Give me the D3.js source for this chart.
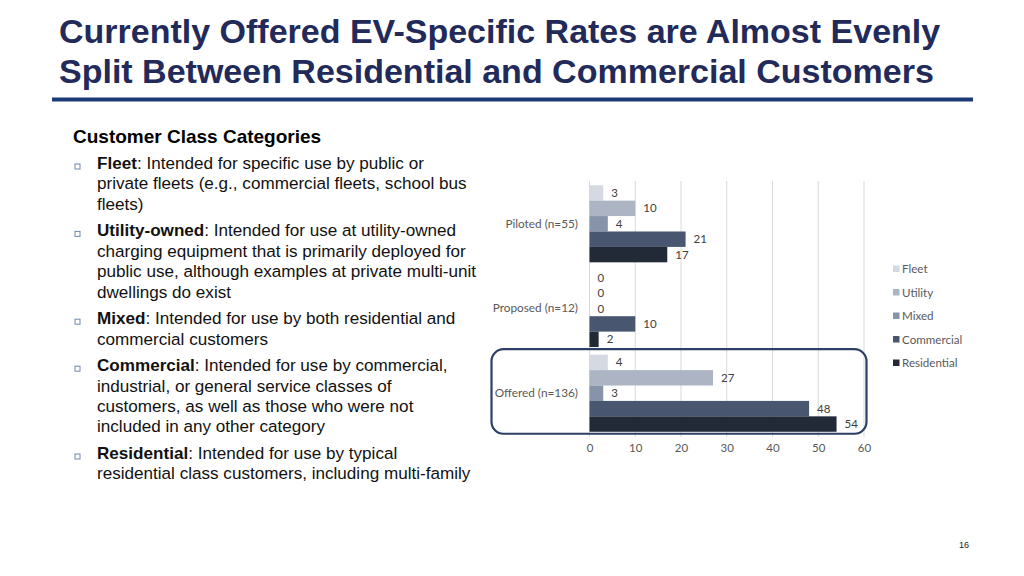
<!DOCTYPE html>
<html><head><meta charset="utf-8">
<script src="https://cdn.jsdelivr.net/npm/d3@7"></script>
<style>
html,body{margin:0;padding:0;background:#fff;}
svg{display:block;}
</style></head>
<body>
<svg id="c" width="1024" height="576"></svg>
<script>
const categories = ["Piloted (n=55)", "Proposed (n=12)", "Offered (n=136)"];
const seriesNames = ["Fleet", "Utility", "Mixed", "Commercial", "Residential"];
const fleet       = [3, 0, 4];
const utility     = [10, 0, 27];
const mixed       = [4, 0, 3];
const commercial  = [21, 10, 48];
const residential = [17, 2, 54];
const xTicks = [0, 10, 20, 30, 40, 50, 60];
const seriesColors = ["#d5d9e1", "#adb5c5", "#8693a8", "#485670", "#222a37"];
const titleLines = ["Currently Offered EV-Specific Rates are Almost Evenly",
                    "Split Between Residential and Commercial Customers"];
const sideHeading = "Customer Class Categories";
const paragraphs = [
  {b:"Fleet", lines:[": Intended for specific use by public or", "private fleets (e.g., commercial fleets, school bus", "fleets)"]},
  {b:"Utility-owned", lines:[": Intended for use at utility-owned", "charging equipment that is primarily deployed for", "public use, although examples at private multi-unit", "dwellings do exist"]},
  {b:"Mixed", lines:[": Intended for use by both residential and", "commercial customers"]},
  {b:"Commercial", lines:[": Intended for use by commercial,", "industrial, or general service classes of", "customers, as well as those who were not", "included in any other category"]},
  {b:"Residential", lines:[": Intended for use by typical", "residential class customers, including multi-family"]}
];
const pageNumber = "16";

const allSeries = [fleet, utility, mixed, commercial, residential];
const svg = d3.select("#c");

// Title
const title = svg.append("g");
titleLines.forEach((t,i)=>{
  title.append("text").attr("x",59).attr("y",43+i*40)
    .attr("font-family","Liberation Sans, Arial, sans-serif")
    .attr("font-weight","bold").attr("font-size",34)
    .attr("fill","#222a5a").text(t);
});
svg.append("rect").attr("x",52).attr("y",97.5).attr("width",921).attr("height",4).attr("fill","#1d3a78");

// Left text
const tf = "Liberation Sans, Arial, sans-serif";
svg.append("text").attr("x",73).attr("y",143).attr("font-family",tf).attr("font-weight","bold")
  .attr("font-size",19).attr("fill","#000").text(sideHeading);
let li = 0;
paragraphs.forEach((p,pi)=>{
  p.lines.forEach((ln,k)=>{
    const y = 169 + li*20.4 + pi*6.2;
    const t = svg.append("text").attr("x",97).attr("y",y).attr("font-family",tf)
      .attr("font-size",17.1).attr("fill","#111");
    if(k===0){
      t.append("tspan").attr("font-weight","bold").text(p.b);
      svg.append("rect").attr("x",75).attr("y",y-5).attr("width",5).attr("height",5)
        .attr("fill","none").attr("stroke","#6f86b0").attr("stroke-width",1);
    }
    t.append("tspan").text(ln);
    li++;
  });
});

// Chart
const cf = "Lato, 'Open Sans', sans-serif";
const x = d3.scaleLinear().domain([0,60]).range([589.5,864]);
const y0 = d3.scaleBand().domain(categories).range([181,436]).paddingInner(0.09).paddingOuter(0.05);
const y1 = d3.scaleBand().domain(seriesNames).range([0,y0.bandwidth()]);

// grid
svg.append("g").selectAll("line").data(xTicks).join("line")
  .attr("x1",d=>x(d)).attr("x2",d=>x(d)).attr("y1",181).attr("y2",437)
  .attr("stroke","#d9d9d9").attr("stroke-width",1);

// x axis labels
const xa = svg.append("g").attr("transform","translate(0,444)")
  .call(d3.axisBottom(x).tickValues(xTicks).tickSize(0).tickPadding(0));
xa.select(".domain").remove();
xa.selectAll("text").attr("font-family",cf).attr("font-size",11.5).attr("fill","#595959");

// y axis labels
const ya = svg.append("g").attr("transform","translate(578,0)")
  .call(d3.axisLeft(y0).tickSize(0).tickPadding(0));
ya.select(".domain").remove();
ya.selectAll("text").attr("font-family",cf).attr("font-size",11.8).attr("fill","#595959");

// bars
const groups = svg.append("g").selectAll("g").data(categories).join("g")
  .attr("transform",d=>`translate(0,${y0(d)})`);
groups.each(function(cat,ci){
  const g = d3.select(this);
  seriesNames.forEach((s,si)=>{
    const v = allSeries[si][ci];
    g.append("rect").attr("x",x(0)).attr("y",y1(s)).attr("width",x(v)-x(0))
      .attr("height",y1.bandwidth()).attr("fill",seriesColors[si]);
    g.append("text").attr("x",x(v)+8).attr("y",y1(s)+y1.bandwidth()/2).attr("dy","0.35em")
      .attr("font-family",cf).attr("font-size",11.5).attr("fill","#404040").text(v);
  });
});

// highlight box around Offered
const off = categories[2];
svg.append("rect").attr("x",491.5).attr("y",y0(off)-5.5).attr("width",375).attr("height",y0.bandwidth()+7.5)
  .attr("rx",12).attr("ry",12).attr("fill","none").attr("stroke","#2d3f66").attr("stroke-width",2.2);

// legend
const lg = svg.append("g");
seriesNames.forEach((s,i)=>{
  const yy = 269 + i*23.5;
  lg.append("rect").attr("x",893).attr("y",yy-3.5).attr("width",6.5).attr("height",6.5).attr("fill",seriesColors[i]);
  lg.append("text").attr("x",902).attr("y",yy).attr("dy","0.35em").attr("font-family",cf)
    .attr("font-size",11.6).attr("fill","#595959").text(s);
});

// page number
svg.append("text").attr("x",964).attr("y",548).attr("text-anchor","middle").attr("font-family",tf)
  .attr("font-size",9).attr("fill","#222").text(pageNumber);
</script>
</body></html>
